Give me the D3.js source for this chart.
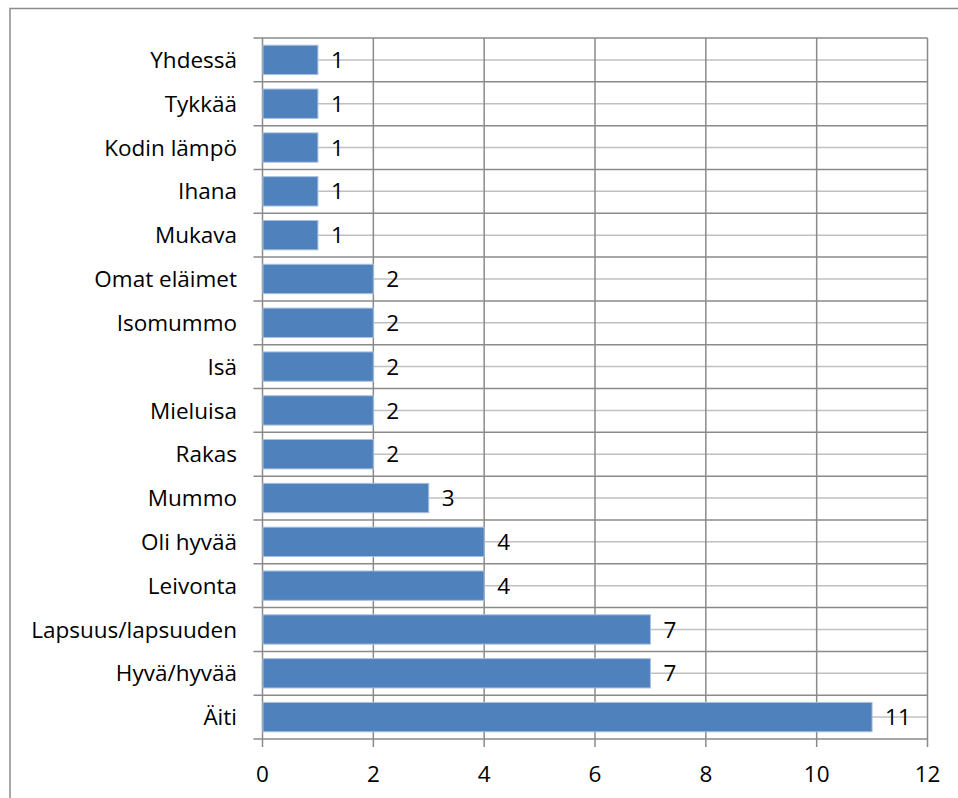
<!DOCTYPE html>
<html>
<head>
<meta charset="utf-8">
<script src="https://cdn.jsdelivr.net/npm/d3@7"></script>
<style>
  html, body { margin: 0; padding: 0; background: #fff; }
  svg { display: block; }
  text { font-family: "Open Sans", "Noto Sans", sans-serif; fill: #000; }
</style>
</head>
<body>
<svg id="chart" width="958" height="798"></svg>
<script>
// Word associations, counted mentions (top to bottom)
const categories = ["Yhdessä", "Tykkää", "Kodin lämpö", "Ihana", "Mukava",
  "Omat eläimet", "Isomummo", "Isä", "Mieluisa", "Rakas", "Mummo",
  "Oli hyvää", "Leivonta", "Lapsuus/lapsuuden", "Hyvä/hyvää", "Äiti"];
const values = [1, 1, 1, 1, 1, 2, 2, 2, 2, 2, 3, 4, 4, 7, 7, 11];
const xTicks = [0, 2, 4, 6, 8, 10, 12];

const svg = d3.select("#chart");
const plot = { left: 262.5, right: 927.5, top: 38, bottom: 739 };
const fontSize = 22.5;

// outer chart frame
svg.append("rect")
  .attr("x", 10).attr("y", 8.5)
  .attr("width", 1000).attr("height", 1000)
  .attr("fill", "none").attr("stroke", "#8c8c8c").attr("stroke-width", 1.5);

const x = d3.scaleLinear().domain([0, 12]).range([plot.left, plot.right]);
const y = d3.scaleBand().domain(categories).range([plot.top, plot.bottom]).paddingInner(0.33).paddingOuter(0.165);
const yAll = d3.scaleBand().domain(categories).range([plot.top, plot.bottom]);

const g = svg.append("g");

// light lines through each category centre
g.selectAll("line.mid").data(categories).join("line")
  .attr("class", "mid")
  .attr("x1", plot.left).attr("x2", plot.right)
  .attr("y1", d => yAll(d) + yAll.bandwidth() / 2)
  .attr("y2", d => yAll(d) + yAll.bandwidth() / 2)
  .attr("stroke", "#c0c0c0").attr("stroke-width", 1.5);

// category boundary lines with ticks extending left
const bounds = categories.map(d => yAll(d)).concat([plot.bottom]);
g.selectAll("line.bound").data(bounds).join("line")
  .attr("class", "bound")
  .attr("x1", plot.left - 9).attr("x2", plot.right)
  .attr("y1", d => d).attr("y2", d => d)
  .attr("stroke", "#8a8a8a").attr("stroke-width", 1.5);

// vertical gridlines and bottom ticks
g.selectAll("line.vgrid").data(xTicks).join("line")
  .attr("class", "vgrid")
  .attr("x1", d => x(d)).attr("x2", d => x(d))
  .attr("y1", plot.top).attr("y2", plot.bottom + 8)
  .attr("stroke", "#8a8a8a").attr("stroke-width", 1.5);

// bars
g.selectAll("rect.bar").data(categories).join("rect")
  .attr("class", "bar")
  .attr("x", x(0) + 0.5)
  .attr("y", d => y(d))
  .attr("width", (d, i) => x(values[i]) - x(0) - 0.5)
  .attr("height", y.bandwidth())
  .attr("fill", "#4f81bd")
  .attr("stroke", "#a9c0de").attr("stroke-width", 1);

// value labels
g.selectAll("text.val").data(categories).join("text")
  .attr("class", "val")
  .attr("x", (d, i) => x(values[i]) + 13)
  .attr("y", d => yAll(d) + yAll.bandwidth() / 2)
  .attr("dy", "0.36em")
  .attr("font-size", fontSize)
  .text((d, i) => values[i]);

// category labels
g.selectAll("text.cat").data(categories).join("text")
  .attr("class", "cat")
  .attr("x", 237)
  .attr("y", d => yAll(d) + yAll.bandwidth() / 2)
  .attr("dy", "0.36em")
  .attr("text-anchor", "end")
  .attr("font-size", fontSize)
  .text(d => d);

// x tick labels
g.selectAll("text.xt").data(xTicks).join("text")
  .attr("class", "xt")
  .attr("x", d => x(d))
  .attr("y", 782)
  .attr("text-anchor", "middle")
  .attr("font-size", fontSize)
  .text(d => d);
</script>
</body>
</html>
